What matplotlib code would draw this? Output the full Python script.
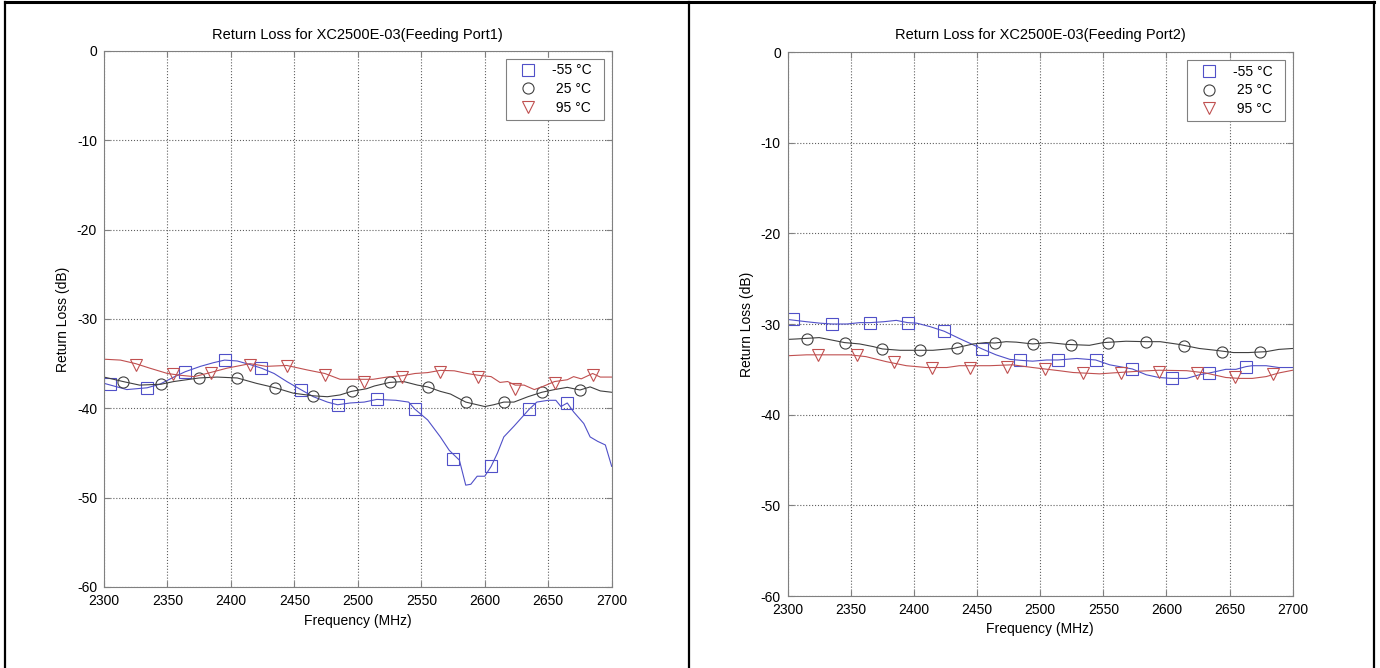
"""Return loss vs frequency for XC2500E-03, two feeding ports side by side."""

import matplotlib

matplotlib.use("Agg")

import matplotlib.pyplot as plt
from matplotlib.lines import Line2D

plt.rcParams["font.family"] = ["Liberation Sans", "DejaVu Sans"]
plt.rcParams["axes.unicode_minus"] = False

BLUE = "#5050c8"
BLACK = "#404040"
RED = "#c05050"
AXIS_GREY = "#808080"
GRID_GREY = "#606060"

# ---- Port 1 -------------------------------------------------------------
P1_FREQ_M55 = [2300, 2318, 2334, 2344, 2355, 2364, 2376, 2386, 2395, 2405, 2415, 2424,
               2434, 2444, 2455, 2465, 2476, 2484, 2494, 2505, 2515, 2530, 2540, 2545,
               2555, 2565, 2572, 2580, 2585, 2589, 2594, 2600, 2605, 2610, 2615, 2623,
               2635, 2641, 2650, 2656, 2660, 2665, 2670, 2678, 2683, 2689, 2695, 2700]
P1_LOSS_M55 = [-37.2, -37.9, -37.7, -37.3, -36.5, -35.9, -35.3, -34.9, -34.6, -34.7, -35.1, -35.5,
               -36.1, -37.0, -37.9, -38.7, -39.3, -39.6, -39.4, -39.3, -39.0, -39.1, -39.3, -40.1,
               -41.3, -43.2, -44.7, -45.8, -48.6, -48.5, -47.6, -47.6, -46.5, -45.0, -43.2, -42.0,
               -40.1, -39.3, -39.1, -39.1, -39.8, -39.4, -40.4, -41.7, -43.2, -43.7, -44.1, -46.5]
P1_MARK_FREQ_M55 = [2305, 2334, 2364, 2395, 2424, 2455, 2484, 2515, 2545, 2575, 2605, 2635, 2665]
P1_MARK_LOSS_M55 = [-37.3, -37.7, -35.9, -34.6, -35.5, -37.9, -39.6, -39.0, -40.1, -45.7, -46.5, -40.1, -39.4]

P1_FREQ_25 = [2300, 2315, 2328, 2345, 2355, 2365, 2375, 2389, 2405, 2420, 2435, 2449,
              2465, 2476, 2486, 2495, 2507, 2513, 2525, 2536, 2547, 2555, 2565, 2573,
              2585, 2591, 2600, 2607, 2615, 2623, 2634, 2645, 2655, 2665, 2675, 2683,
              2691, 2700]
P1_LOSS_25 = [-36.5, -37.0, -37.4, -37.3, -37.0, -36.8, -36.6, -36.5, -36.6, -37.2, -37.7, -38.3,
              -38.6, -38.7, -38.5, -38.1, -37.8, -37.5, -37.1, -37.0, -37.4, -37.6, -38.1, -38.4,
              -39.3, -39.5, -39.8, -39.6, -39.3, -39.3, -38.7, -38.2, -37.9, -37.65, -37.95, -37.6,
              -38.05, -38.2]
P1_MARK_FREQ_25 = [2315, 2345, 2375, 2405, 2435, 2465, 2495, 2525, 2555, 2585, 2615, 2645, 2675]
P1_MARK_LOSS_25 = [-37.0, -37.3, -36.6, -36.6, -37.7, -38.6, -38.1, -37.1, -37.6, -39.3, -39.3, -38.2, -37.95]

P1_FREQ_95 = [2300, 2313, 2325, 2336, 2350, 2360, 2371, 2381, 2397, 2415, 2428, 2444,
              2460, 2474, 2486, 2502, 2512, 2523, 2535, 2545, 2555, 2565, 2576, 2586,
              2595, 2605, 2612, 2618, 2624, 2631, 2639, 2645, 2655, 2665, 2670, 2676,
              2685, 2691, 2700]
P1_LOSS_95 = [-34.5, -34.6, -35.0, -35.5, -36.1, -36.3, -36.45, -36.1, -35.5, -35.0, -35.3, -35.2,
              -35.7, -36.1, -36.75, -36.75, -36.75, -36.5, -36.35, -36.1, -36.0, -35.75, -35.8, -36.1,
              -36.3, -36.45, -37.1, -37.0, -37.4, -37.4, -37.9, -37.6, -37.0, -36.8, -36.45, -36.7,
              -36.1, -36.5, -36.5]
P1_MARK_FREQ_95 = [2325, 2354, 2384, 2415, 2444, 2474, 2505, 2535, 2565, 2595, 2624, 2655, 2685]
P1_MARK_LOSS_95 = [-35.15, -36.2, -36.1, -35.15, -35.3, -36.3, -37.0, -36.5, -35.9, -36.5, -37.8, -37.2, -36.3]

# ---- Port 2 -------------------------------------------------------------
P2_FREQ_M55 = [2300, 2315, 2325, 2335, 2347, 2357, 2365, 2376, 2386, 2395, 2402, 2413,
               2424, 2436, 2447, 2454, 2465, 2476, 2484, 2494, 2505, 2514, 2529, 2544,
               2555, 2573, 2584, 2594, 2604, 2616, 2626, 2634, 2639, 2647, 2655, 2663,
               2668, 2679, 2689, 2700]
P2_LOSS_M55 = [-29.5, -29.75, -29.9, -30.0, -30.0, -29.85, -29.85, -29.75, -29.6, -29.85, -29.9, -30.3,
               -30.8, -31.6, -32.3, -32.75, -33.4, -33.9, -34.0, -34.1, -33.97, -33.97, -33.8, -33.97,
               -34.5, -34.96, -35.6, -35.9, -36.0, -36.0, -35.6, -35.4, -35.25, -35.0, -35.0, -34.7,
               -34.6, -34.6, -34.8, -34.8]
P2_MARK_FREQ_M55 = [2304, 2335, 2365, 2395, 2424, 2454, 2484, 2514, 2544, 2573, 2604, 2634, 2663]
P2_MARK_LOSS_M55 = [-29.5, -30.0, -29.85, -29.85, -30.8, -32.75, -34.0, -33.97, -33.97, -34.96, -36.0, -35.4, -34.7]

P2_FREQ_25 = [2300, 2307, 2325, 2336, 2345, 2357, 2368, 2375, 2389, 2405, 2415, 2431,
              2447, 2457, 2464, 2473, 2481, 2494, 2507, 2521, 2539, 2550, 2568, 2584,
              2595, 2610, 2626, 2639, 2653, 2665, 2679, 2689, 2700]
P2_LOSS_25 = [-31.7, -31.65, -31.5, -31.8, -32.05, -32.2, -32.5, -32.75, -32.9, -32.9, -32.9, -32.7,
              -32.2, -32.05, -32.1, -31.95, -32.0, -32.2, -32.05, -32.25, -32.35, -32.05, -31.9, -31.95,
              -31.95, -32.25, -32.7, -32.9, -33.15, -33.15, -33.05, -32.8, -32.7]
P2_MARK_FREQ_25 = [2315, 2345, 2375, 2405, 2434, 2464, 2494, 2524, 2554, 2584, 2614, 2644, 2674]
P2_MARK_LOSS_25 = [-31.7, -32.05, -32.75, -32.9, -32.6, -32.1, -32.2, -32.35, -32.1, -31.95, -32.4, -33.05, -33.05]

P2_FREQ_95 = [2300, 2315, 2334, 2349, 2362, 2378, 2394, 2410, 2426, 2436, 2460, 2478,
              2494, 2515, 2526, 2547, 2557, 2579, 2594, 2616, 2631, 2647, 2658, 2668,
              2679, 2689, 2700]
P2_LOSS_95 = [-33.5, -33.4, -33.4, -33.4, -33.6, -34.15, -34.6, -34.8, -34.8, -34.6, -34.6, -34.5,
              -34.8, -35.15, -35.35, -35.5, -35.4, -35.2, -35.1, -35.15, -35.4, -35.9, -36.0, -36.0,
              -35.8, -35.4, -35.1]
P2_MARK_FREQ_95 = [2324, 2355, 2384, 2414, 2444, 2474, 2504, 2534, 2564, 2594, 2624, 2654, 2684]
P2_MARK_LOSS_95 = [-33.4, -33.45, -34.2, -34.9, -34.8, -34.7, -35.0, -35.4, -35.4, -35.25, -35.35, -35.9, -35.55]

X_TICKS = [2300, 2350, 2400, 2450, 2500, 2550, 2600, 2650, 2700]
Y_TICKS = [0, -10, -20, -30, -40, -50, -60]
LEGEND_LABELS = ["-55 °C  ", " 25 °C  ", " 95 °C  "]

W, H = 1380, 668


def _px_rect(left, top, right, bottom):
    """Axes rectangle from pixel edges (origin top-left) to figure fraction."""
    return [left / W, 1 - bottom / H, (right - left) / W, (bottom - top) / H]


def _draw_panel(ax, title, series):
    handles = []
    for (freq, loss, mfreq, mloss), color, marker, ms in zip(
        series, [BLUE, BLACK, RED], ["s", "o", "v"], [8, 8, 9]
    ):
        ax.plot(freq, loss, color=color, linewidth=0.8)
        h, = ax.plot(mfreq, mloss, linestyle="none", marker=marker, markersize=ms,
                     markerfacecolor="none", markeredgecolor=color, markeredgewidth=0.8)
        handles.append(h)

    ax.set_xlim(2300, 2700)
    ax.set_ylim(-60, 0)
    ax.set_xticks(X_TICKS)
    ax.set_yticks(Y_TICKS)
    ax.grid(True, linestyle=":", linewidth=0.8, color=GRID_GREY)
    ax.tick_params(direction="in", length=4, color=AXIS_GREY, top=True, right=True,
                   labelsize=10)
    ax.tick_params(axis="x", pad=5)
    ax.tick_params(axis="y", pad=5)
    for spine in ax.spines.values():
        spine.set_color(AXIS_GREY)
        spine.set_linewidth(0.8)

    ax.set_title(title, fontsize=10.5, pad=9)
    ax.set_xlabel("Frequency (MHz)", fontsize=10, labelpad=4)
    ax.set_ylabel("Return Loss (dB)", fontsize=10, labelpad=5)

    leg = ax.legend(handles, LEGEND_LABELS, loc="upper right", fontsize=10,
                    fancybox=False, framealpha=1, edgecolor=AXIS_GREY,
                    borderaxespad=0.55, handletextpad=0.55, labelspacing=0.35,
                    borderpad=0.35, handlelength=2.4)
    leg.get_frame().set_linewidth(0.8)


fig = plt.figure(figsize=(W / 100, H / 100), dpi=100)

ax1 = fig.add_axes(_px_rect(104, 51, 611.7, 587))
_draw_panel(ax1, "Return Loss for XC2500E-03(Feeding Port1)", [
    (P1_FREQ_M55, P1_LOSS_M55, P1_MARK_FREQ_M55, P1_MARK_LOSS_M55),
    (P1_FREQ_25, P1_LOSS_25, P1_MARK_FREQ_25, P1_MARK_LOSS_25),
    (P1_FREQ_95, P1_LOSS_95, P1_MARK_FREQ_95, P1_MARK_LOSS_95),
])

ax2 = fig.add_axes(_px_rect(787.7, 52, 1292.7, 596))
_draw_panel(ax2, "Return Loss for XC2500E-03(Feeding Port2)", [
    (P2_FREQ_M55, P2_LOSS_M55, P2_MARK_FREQ_M55, P2_MARK_LOSS_M55),
    (P2_FREQ_25, P2_LOSS_25, P2_MARK_FREQ_25, P2_MARK_LOSS_25),
    (P2_FREQ_95, P2_LOSS_95, P2_MARK_FREQ_95, P2_MARK_LOSS_95),
])

# table cell borders around the two charts
for x in (5 / W, 688.5 / W, 1374 / W):
    fig.add_artist(Line2D([x, x], [0, 1 - 2 / H], color="black", linewidth=1.6))
fig.add_artist(Line2D([5 / W, 1374 / W], [1 - 2 / H, 1 - 2 / H], color="black", linewidth=2.2))

fig.savefig("out.png", dpi=100, facecolor="white")
plt.close(fig)
